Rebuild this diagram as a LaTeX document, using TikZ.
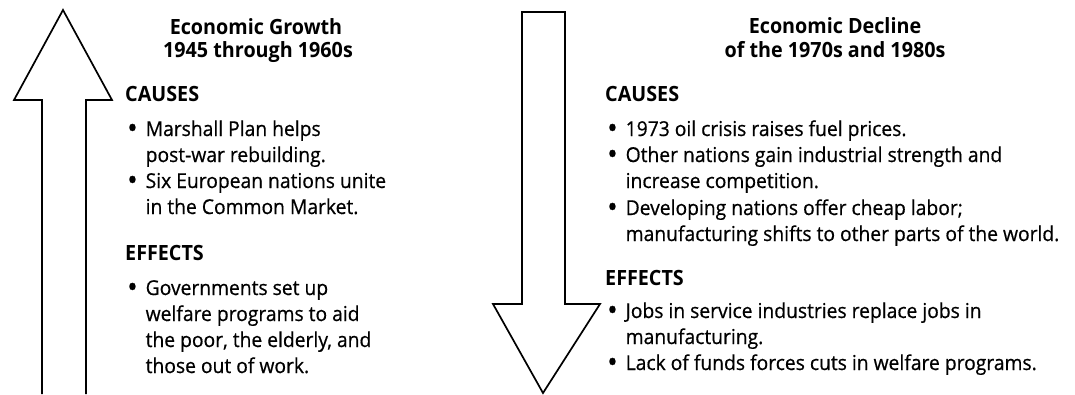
\documentclass[tikz,border=0pt]{standalone}
\usepackage{fontspec}
\setmainfont{Open Sans}[FakeStretch=0.94]
\newfontfamily\bodyfam{Open Sans}[FakeStretch=0.94,FakeBold=0.6]
\newcommand{\bodyfnt}{\bodyfam\fontsize{20.5}{26}\selectfont}
\newcommand{\headfnt}{\fontsize{21}{26}\selectfont\bfseries}
\newcommand{\bul}{\makebox[18.5pt][l]{\smash{\raisebox{-2.3pt}{\scalebox{1.45}{\textbullet}}}}}
\newcommand{\ind}{\hspace*{18.5pt}}
\begin{document}
\begin{tikzpicture}[x=1pt,y=-1pt,
  bigarrow/.style={draw=black,line width=1.7pt,line join=miter,fill=white},
  bodytxt/.style={anchor=base west,inner sep=0pt,font=\bodyfnt},
  headtxt/.style={anchor=base west,inner sep=0pt,font=\headfnt},
  titletxt/.style={anchor=base,inner sep=0pt,font=\headfnt}]
\useasboundingbox (0,0) rectangle (1075,394);
% up arrow
\draw[bigarrow] (42,394) -- (42,100) -- (14,100) -- (63,10) -- (112,100) -- (86,100) -- (86,394);
% down arrow
\draw[bigarrow] (522,12) -- (565,12) -- (565,304) -- (600,304) -- (543,393) -- (493,304) -- (522,304) -- cycle;
% left column
\node[titletxt] (lt1) at (256,34) {Economic Growth};
\node[titletxt] (lt2) at (258,57) {1945 through 1960s};
\node[headtxt] (lc) at (125,101) {CAUSES};
\node[bodytxt] (l1) at (127,136) {\bul Marshall Plan helps};
\node[bodytxt] (l2) at (127,162) {\ind post-war rebuilding.};
\node[bodytxt] (l3) at (127,188) {\bul Six European nations unite};
\node[bodytxt] (l4) at (127,214) {\ind in the Common Market.};
\node[headtxt] (le) at (125,260) {EFFECTS};
\node[bodytxt] (l5) at (127,295) {\bul Governments set up};
\node[bodytxt] (l6) at (127,321) {\ind welfare programs to aid};
\node[bodytxt] (l7) at (127,347) {\ind the poor, the elderly, and};
\node[bodytxt] (l8) at (127,373) {\ind those out of work.};
% right column
\node[titletxt] (rt1) at (835,33) {Economic Decline};
\node[titletxt] (rt2) at (835,57) {of the 1970s and 1980s};
\node[headtxt] (rc) at (605,101) {CAUSES};
\node[bodytxt] (r1) at (607,136) {\bul 1973 oil crisis raises fuel prices.};
\node[bodytxt] (r2) at (607,162) {\bul Other nations gain industrial strength and};
\node[bodytxt] (r3) at (607,188) {\ind increase competition.};
\node[bodytxt] (r4) at (607,215) {\bul Developing nations offer cheap labor;};
\node[bodytxt] (r5) at (607,241) {\ind manufacturing shifts to other parts of the world.};
\node[headtxt] (re) at (605,285) {EFFECTS};
\node[bodytxt] (r6) at (607,318) {\bul Jobs in service industries replace jobs in};
\node[bodytxt] (r7) at (607,344) {\ind manufacturing.};
\node[bodytxt] (r8) at (607,370) {\bul Lack of funds forces cuts in welfare programs.};
\end{tikzpicture}
\end{document}
